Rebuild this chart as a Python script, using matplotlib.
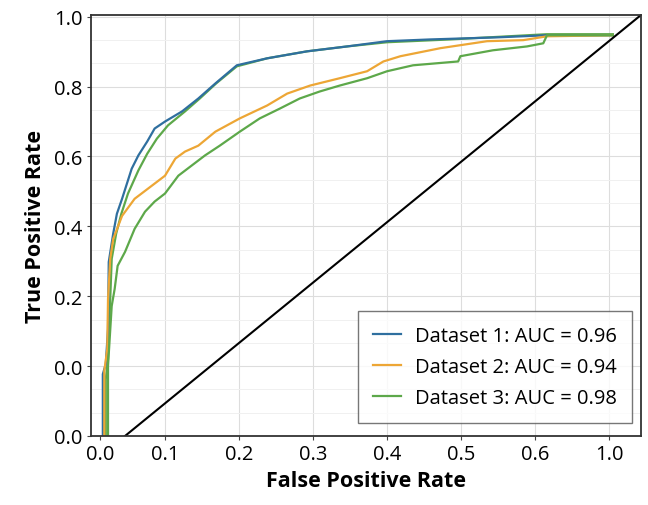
import numpy as np
from matplotlib import pyplot as plt
from matplotlib.ticker import MultipleLocator

plt.rcParams['font.family'] = ['Open Sans', 'DejaVu Sans']

# ROC curves (x = FPR, y = TPR)
fpr1 = [0.016, 0.016, 0.020, 0.023, 0.024, 0.030, 0.035, 0.042, 0.055, 0.064, 0.076, 0.086,
        0.100, 0.123, 0.145, 0.168, 0.197, 0.238, 0.292, 0.346, 0.400, 0.458, 0.549, 0.616, 0.705]
tpr1 = [-0.2, -0.023, 0.006, 0.106, 0.298, 0.379, 0.436, 0.479, 0.565, 0.603, 0.643, 0.680,
        0.700, 0.729, 0.766, 0.809, 0.861, 0.881, 0.901, 0.915, 0.930, 0.935, 0.941, 0.947, 0.947]

fpr2 = [0.018, 0.018, 0.022, 0.023, 0.026, 0.030, 0.042, 0.059, 0.082, 0.100, 0.114, 0.127,
        0.145, 0.168, 0.201, 0.238, 0.265, 0.296, 0.336, 0.373, 0.395, 0.418, 0.472, 0.535,
        0.584, 0.616, 0.705]
tpr2 = [-0.2, -0.014, 0.049, 0.192, 0.307, 0.364, 0.430, 0.479, 0.516, 0.545, 0.594, 0.614,
        0.631, 0.671, 0.709, 0.746, 0.780, 0.803, 0.824, 0.844, 0.872, 0.887, 0.910, 0.930,
        0.933, 0.944, 0.947]

fpr3 = [0.023, 0.023, 0.028, 0.032, 0.036, 0.046, 0.059, 0.073, 0.086, 0.100, 0.118, 0.136,
        0.154, 0.174, 0.201, 0.228, 0.255, 0.282, 0.309, 0.336, 0.373, 0.400, 0.435, 0.496,
        0.499, 0.543, 0.589, 0.611, 0.616, 0.705]
tpr3 = [-0.2, 0.0, 0.172, 0.221, 0.287, 0.327, 0.393, 0.442, 0.471, 0.494, 0.545, 0.574,
        0.603, 0.631, 0.671, 0.709, 0.737, 0.766, 0.786, 0.803, 0.824, 0.844, 0.861, 0.872,
        0.887, 0.904, 0.915, 0.924, 0.947, 0.947]

# second green trace that runs along dataset 1
fpr3b = [0.020, 0.020, 0.023, 0.026, 0.028, 0.034, 0.041, 0.050, 0.064, 0.076, 0.089, 0.104,
         0.127, 0.147, 0.169, 0.197, 0.238, 0.292, 0.346, 0.400, 0.485, 0.616, 0.705]
tpr3b = [-0.2, -0.037, 0.020, 0.192, 0.307, 0.379, 0.436, 0.494, 0.560, 0.608, 0.651, 0.689,
         0.729, 0.766, 0.809, 0.858, 0.881, 0.901, 0.915, 0.927, 0.935, 0.950, 0.950]

labels = ['Dataset 1: AUC = 0.96', 'Dataset 2: AUC = 0.94', 'Dataset 3: AUC = 0.98']
colors = ['#2f6f9f', '#eda635', '#5da84a']

diag_x = [0.046, 0.743]
diag_y = [-0.2, 1.005]

xtick_pos = [0.012, 0.1, 0.2, 0.3, 0.4, 0.5, 0.6, 0.7]
xtick_lab = ['0.0', '0.1', '0.2', '0.3', '0.4', '0.5', '0.6', '1.0']
ytick_pos = [-0.2, 0.0, 0.2, 0.4, 0.6, 0.8, 1.0]
ytick_lab = ['0.0', '0.0', '0.2', '0.4', '0.6', '0.8', '1.0']

fig = plt.figure(figsize=(6.48, 5.06), dpi=100)
ax = fig.add_axes([0.1404, 0.1364, 0.8488, 0.832])

ax.plot(fpr3b, tpr3b, color=colors[2], lw=1.6, label='_nolegend_')
ax.plot(fpr1, tpr1, color=colors[0], lw=1.6, label=labels[0])
ax.plot(fpr2, tpr2, color=colors[1], lw=1.6, label=labels[1])
ax.plot(fpr3, tpr3, color=colors[2], lw=1.6, label=labels[2])
ax.plot(diag_x, diag_y, color='black', lw=1.5)

ax.set_xlim(0, 0.743)
ax.set_ylim(-0.2, 1.005)
ax.set_xticks(xtick_pos)
ax.set_xticklabels(xtick_lab)
ax.set_yticks(ytick_pos)
ax.set_yticklabels(ytick_lab)
ax.yaxis.set_minor_locator(MultipleLocator(0.2 / 3))
ax.tick_params(labelsize=14.5, length=3, color='#444444', pad=3)
ax.tick_params(which='minor', length=0)

ax.grid(True, color='#dddddd', lw=0.8)
ax.grid(True, which='minor', axis='y', color='#f0f0f0', lw=0.7)
ax.xaxis.get_gridlines()[0].set_visible(False)
ax.set_axisbelow(True)
for s in ax.spines.values():
    s.set_color('#333333')
    s.set_linewidth(1.3)

ax.set_xlabel('False Positive Rate', fontsize=15.5, fontweight='bold', labelpad=4)
ax.set_ylabel('True Positive Rate', fontsize=15.5, fontweight='bold', labelpad=6)

leg = ax.legend(loc='lower right', fontsize=14.5, frameon=True, fancybox=False,
                edgecolor='#555555', borderpad=0.75, handlelength=1.4, labelspacing=0.55,
                handletextpad=0.7, borderaxespad=0, bbox_to_anchor=(0.984, 0.031))
leg.get_frame().set_linewidth(1.0)

plt.savefig('out.png', dpi=100)
